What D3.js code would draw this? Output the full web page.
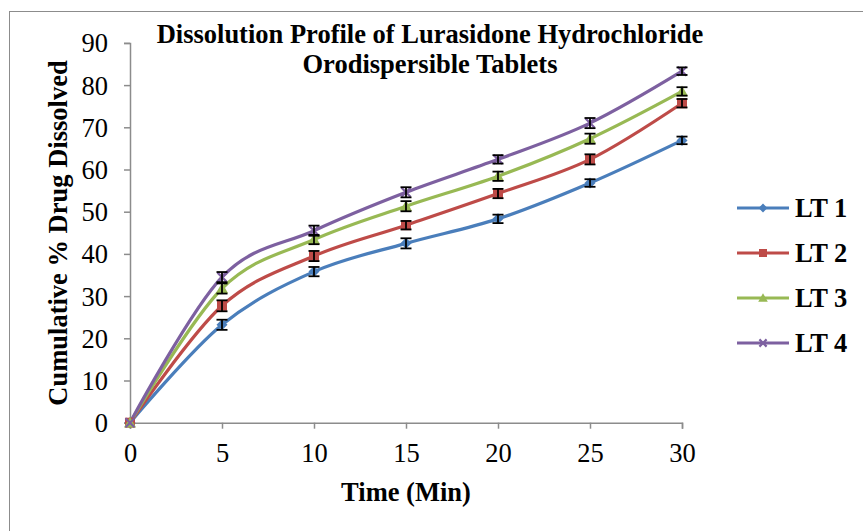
<!DOCTYPE html>
<html>
<head>
<meta charset="utf-8">
<script src="https://cdn.jsdelivr.net/npm/d3@7"></script>
<style>
  body { margin: 0; background: #fff; }
  text { font-family: "Liberation Serif", "Times New Roman", serif; }
</style>
</head>
<body>
<script>
// data
const times = [0, 5, 10, 15, 20, 25, 30];
const seriesNames = ['LT 1', 'LT 2', 'LT 3', 'LT 4'];
const lt1 = [0, 23.2, 35.8, 42.5, 48.3, 56.8, 66.9];
const lt2 = [0, 27.7, 39.5, 46.8, 54.3, 62.4, 75.7];
const lt3 = [0, 31.8, 43.4, 51.3, 58.4, 67.3, 78.5];
const lt4 = [0, 34.5, 45.5, 54.6, 62.4, 71.0, 83.3];
const err1 = [0, 1.2, 1.1, 1.2, 1.0, 0.9, 0.9];
const err2 = [0, 1.3, 1.2, 1.0, 1.1, 1.2, 1.0];
const err3 = [0, 1.2, 1.1, 1.2, 1.1, 1.2, 1.0];
const err4 = [0, 1.2, 1.2, 1.2, 1.0, 1.2, 0.9];
const yTicks = [0, 10, 20, 30, 40, 50, 60, 70, 80, 90];
const xTicks = [0, 5, 10, 15, 20, 25, 30];

const colors = ['#4a7ebb', '#be4b48', '#98b954', '#7d60a0'];
const values = [lt1, lt2, lt3, lt4];
const errs = [err1, err2, err3, err4];

const series = seriesNames.map((name, i) => ({
  name: name,
  color: colors[i],
  pts: times.map((t, j) => ({t: t, v: values[i][j], e: errs[i][j]}))
}));

const W = 863, H = 531;
const FS = 26.5;
const svg = d3.select('body').append('svg')
  .attr('width', W)
  .attr('height', H);

// chart border
svg.append('rect')
  .attr('x', 9.5).attr('y', 11.5)
  .attr('width', 900).attr('height', 600)
  .attr('fill', 'none')
  .attr('stroke', '#8c8c8c')
  .attr('stroke-width', 1);

const x = d3.scaleLinear().domain([0, 30]).range([130, 682]);
const y = d3.scaleLinear().domain([0, 90]).range([422.7, 42.9]);

// axes
const xAxis = svg.append('g')
  .attr('transform', `translate(0,${y(0)})`)
  .call(d3.axisBottom(x).tickValues(xTicks).tickSize(6).tickPadding(10));
const yAxis = svg.append('g')
  .attr('transform', `translate(${x(0)},0)`)
  .call(d3.axisLeft(y).tickValues(yTicks).tickSize(6).tickPadding(16));

[xAxis, yAxis].forEach(g => {
  g.attr('font-size', FS).attr('font-family', '"Liberation Serif", serif');
  g.select('.domain').attr('stroke', '#8c8c8c').attr('stroke-width', 1.5);
  g.selectAll('.tick line').attr('stroke', '#8c8c8c').attr('stroke-width', 1.5);
  g.selectAll('.tick text').attr('fill', '#000');
});
xAxis.selectAll('.tick text').attr('dy', null).attr('y', 39);
yAxis.selectAll('.tick text').attr('dy', '0.34em');

// smoothed lines
const line = d3.line()
  .x(d => x(d.t))
  .y(d => y(d.v))
  .curve(d3.curveCatmullRom.alpha(0));

const g = svg.append('g');
series.forEach(s => {
  g.append('path')
    .datum(s.pts)
    .attr('fill', 'none')
    .attr('stroke', s.color)
    .attr('stroke-width', 3.2)
    .attr('stroke-linejoin', 'round')
    .attr('d', line);
});

// markers
function drawMarker(sel, i, cx, cy, small) {
  const c = colors[i];
  const k = small ? 0.8 : 1;
  if (i === 0) {
    const r = 5.5 * k;
    sel.append('path')
      .attr('d', `M${cx},${cy - r}L${cx + r},${cy}L${cx},${cy + r}L${cx - r},${cy}Z`)
      .attr('fill', c);
  } else if (i === 1) {
    const r = 5 * k;
    sel.append('rect')
      .attr('x', cx - r).attr('y', cy - r)
      .attr('width', 2 * r).attr('height', 2 * r)
      .attr('fill', c);
  } else if (i === 2) {
    const r = 6 * k;
    sel.append('path')
      .attr('d', `M${cx},${cy - r}L${cx + r},${cy + r * 0.8}L${cx - r},${cy + r * 0.8}Z`)
      .attr('fill', c);
  } else {
    const r = 4.5 * k;
    sel.append('path')
      .attr('d', `M${cx - r},${cy - r}L${cx + r},${cy + r}M${cx + r},${cy - r}L${cx - r},${cy + r}`)
      .attr('stroke', c)
      .attr('stroke-width', 2.2);
  }
}

series.forEach((s, i) => {
  const m = svg.append('g');
  s.pts.forEach(d => drawMarker(m, i, x(d.t), y(d.v), false));
});

// error bars
series.forEach(s => {
  const eb = svg.append('g').attr('stroke', '#000').attr('stroke-width', 1.8);
  s.pts.filter(d => d.e > 0).forEach(d => {
    const cx = x(d.t);
    eb.append('line')
      .attr('x1', cx).attr('x2', cx)
      .attr('y1', y(d.v - d.e)).attr('y2', y(d.v + d.e));
    [d.v - d.e, d.v + d.e].forEach(v => {
      eb.append('line')
        .attr('x1', cx - 5.5).attr('x2', cx + 5.5)
        .attr('y1', y(v)).attr('y2', y(v));
    });
  });
});

// title
const title = svg.append('text')
  .attr('text-anchor', 'middle')
  .attr('font-weight', 'bold')
  .attr('font-size', FS)
  .attr('fill', '#000');
title.append('tspan').attr('x', 430).attr('y', 43)
  .text('Dissolution Profile of Lurasidone Hydrochloride');
title.append('tspan').attr('x', 430).attr('y', 73)
  .text('Orodispersible Tablets');

// axis titles
svg.append('text')
  .attr('x', 406).attr('y', 501)
  .attr('text-anchor', 'middle')
  .attr('font-weight', 'bold')
  .attr('font-size', FS)
  .text('Time (Min)');

svg.append('text')
  .attr('transform', 'translate(67,233) rotate(-90)')
  .attr('text-anchor', 'middle')
  .attr('font-weight', 'bold')
  .attr('font-size', FS)
  .text('Cumulative % Drug Dissolved');

// legend
const legend = svg.append('g');
series.forEach((s, i) => {
  const ly = 208 + i * 45;
  legend.append('line')
    .attr('x1', 737).attr('x2', 789)
    .attr('y1', ly).attr('y2', ly)
    .attr('stroke', s.color)
    .attr('stroke-width', 3.2);
  drawMarker(legend, i, 763, ly, true);
  legend.append('text')
    .attr('x', 795).attr('y', ly + 8.7)
    .attr('font-weight', 'bold')
    .attr('font-size', FS)
    .text(s.name);
});
</script>
</body>
</html>
